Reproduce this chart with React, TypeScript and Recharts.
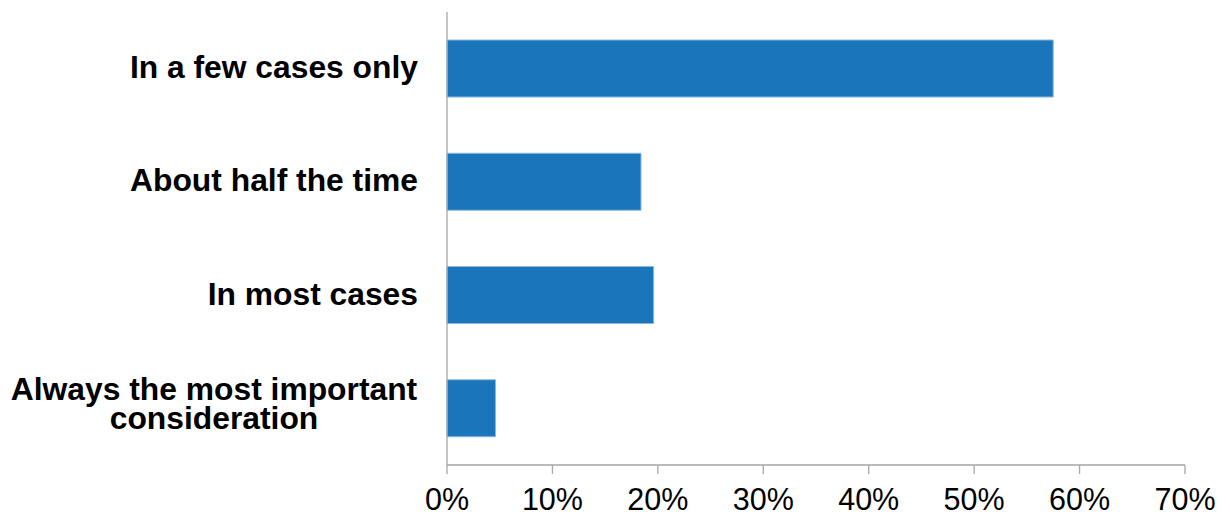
import { BarChart, Bar, XAxis, YAxis } from "recharts";

document.body.style.margin = "0";

const categories = [
  "In a few cases only",
  "About half the time",
  "In most cases",
  "Always the most important\nconsideration",
];
const shares = [57.5, 18.4, 19.6, 4.6];
const xTicks = [0, 10, 20, 30, 40, 50, 60, 70];

const data = categories.map((name, i) => ({ name, value: shares[i] }));

const FONT = "'Liberation Sans', Arial, sans-serif";
const AXIS = "#a6a6a6";

const CategoryTick = ({ x, y, payload }: any) => {
  const lines: string[] = String(payload.value).split("\n");
  if (lines.length === 1) {
    return (
      <text x={x} y={y} dy={9.5} textAnchor="end" fontFamily={FONT} fontSize={31.8} fontWeight="bold" fill="#000">
        {lines[0]}
      </text>
    );
  }
  // multi-line labels are centred on each other, block kept right-aligned
  return (
    <text x={x - 204} y={y} textAnchor="middle" fontFamily={FONT} fontSize={31.8} fontWeight="bold" fill="#000">
      {lines.map((l, i) => (
        <tspan key={i} x={x - 204} dy={i === 0 ? -8.5 : 29.5}>
          {l}
        </tspan>
      ))}
    </text>
  );
};

export default function App() {
  return (
    <BarChart
      width={1230}
      height={518}
      layout="vertical"
      data={data}
      margin={{ top: 12, right: 45, left: 0, bottom: 0 }}
      barSize={57}
    >
      <XAxis
        type="number"
        domain={[0, 70]}
        ticks={xTicks}
        tickFormatter={(v) => `${v}%`}
        height={53}
        tickSize={9}
        tickMargin={14}
        axisLine={{ stroke: AXIS, strokeWidth: 1.3 }}
        tickLine={{ stroke: AXIS, strokeWidth: 1.3 }}
        tick={{ fill: "#000", fontSize: 30.5, fontFamily: FONT }}
        interval={0}
      />
      <YAxis
        type="category"
        dataKey="name"
        width={447}
        axisLine={{ stroke: AXIS, strokeWidth: 1.3 }}
        tickLine={false}
        tickSize={0}
        tickMargin={29}
        tick={<CategoryTick />}
        interval={0}
      />
      <Bar dataKey="value" fill="#1b75bb" stroke="#8ab8e0" strokeWidth={1} isAnimationActive={false} />
    </BarChart>
  );
}
